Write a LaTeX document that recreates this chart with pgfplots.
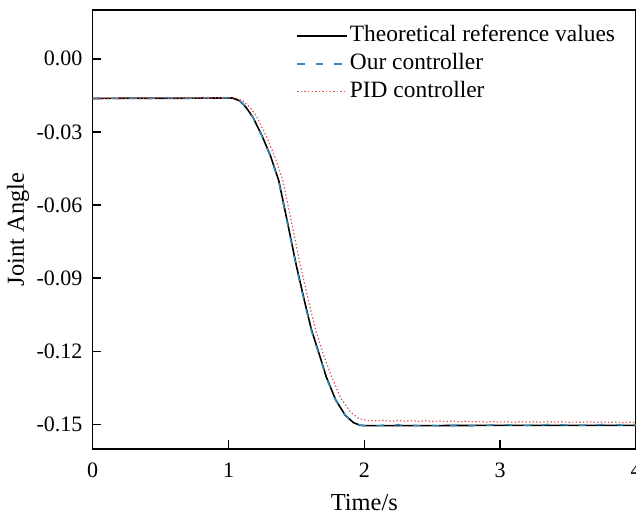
\documentclass[border=0pt]{standalone}
\usepackage{pgfplots}
\pgfplotsset{compat=1.18}
\usepackage{fontspec}
\setmainfont{Liberation Serif}
\definecolor{ourblue}{RGB}{50,140,185}
\definecolor{pidred}{RGB}{225,85,85}
\begin{document}
\fontsize{11}{13}\selectfont
\begin{tikzpicture}
\begin{axis}[
  scale only axis,
  width=271.65pt, height=219.5pt,
  xmin=0, xmax=4, ymin=-0.16, ymax=0.02,
  xtick={0,1,2,3,4},
  ytick={-0.15,-0.12,-0.09,-0.06,-0.03,0},
  yticklabel style={/pgf/number format/fixed,/pgf/number format/fixed zerofill,/pgf/number format/precision=2,xshift=-1.3pt},
  xticklabel style={yshift=-3.3pt},
  /pgf/number format/assume math mode=true,
  scaled y ticks=false,
  tick align=inside,
  xtick pos=bottom, ytick pos=left,
  major tick length=4.3pt,
  tick style={black, line width=0.8pt},
  axis line style={black, line width=0.8pt},
  ticklabel style={font=\fontsize{11}{13}\selectfont},
  label style={font=\fontsize{12.2}{14}\selectfont},
  xlabel={Time/s},
  ylabel={Joint Angle},
  xlabel style={at={(axis description cs:0.5,-0.1225)}, anchor=center},
  ylabel style={at={(axis description cs:-0.1375,0.5)}, anchor=center},
  clip=false,
  legend cell align=left,
  legend style={draw=none, fill=none, at={(rel axis cs:0.363,0.982)}, anchor=north west,
    row sep=0pt, font=\fontsize{11.7}{13}\selectfont,
    nodes={text height=8pt, text depth=2.5pt, inner ysep=1.7pt, inner xsep=1pt}},
  legend image code/.code={\draw[#1] (0pt,0pt) -- (25pt,0pt);},
]
\addplot[black, line width=0.8pt] coordinates {
(0,-0.0163) (0.2,-0.0162) (0.4,-0.0162) (0.6,-0.0162) (0.8,-0.0161) (1.0,-0.0161)
(1.03,-0.0161) (1.08,-0.0172) (1.13,-0.0200) (1.18,-0.0240) (1.25,-0.0320)
(1.31,-0.0400) (1.37,-0.0500) (1.43,-0.0660) (1.50,-0.0850) (1.56,-0.0995)
(1.61,-0.1110) (1.67,-0.1215) (1.72,-0.1305) (1.79,-0.1400) (1.86,-0.1462)
(1.92,-0.1492) (1.97,-0.1503) (2.0,-0.1504) (2.5,-0.1504) (3.0,-0.1503)
(3.5,-0.1503) (4.0,-0.1503)
};
\addlegendentry{Theoretical reference values}
\addplot[ourblue, line width=0.7pt, dash pattern=on 3.75pt off 5.5pt] coordinates {
(0,-0.0164) (0.05,-0.0160) (0.1,-0.0163) (0.15,-0.0161) (0.2,-0.0165) (0.25,-0.0160)
(0.3,-0.0163) (0.35,-0.0160) (0.4,-0.0164) (0.45,-0.0161) (0.5,-0.0163) (0.55,-0.0159)
(0.6,-0.0162) (0.65,-0.0160) (0.7,-0.0164) (0.75,-0.0160) (0.8,-0.0162) (0.85,-0.0159)
(0.9,-0.0162) (0.95,-0.0160) (1.0,-0.0161) (1.03,-0.0161)
(1.08,-0.0171) (1.13,-0.0199) (1.18,-0.0240) (1.25,-0.0322)
(1.31,-0.0403) (1.37,-0.0505) (1.43,-0.0667) (1.50,-0.0857) (1.56,-0.1002)
(1.61,-0.1116) (1.67,-0.1220) (1.72,-0.1309) (1.79,-0.1402) (1.86,-0.1463)
(1.92,-0.1492) (1.97,-0.1502) (2.0,-0.1504) (2.05,-0.1500) (2.1,-0.1505) (2.15,-0.1501)
(2.2,-0.1504) (2.25,-0.1500) (2.3,-0.1505) (2.35,-0.1502) (2.4,-0.1504) (2.45,-0.1500)
(2.5,-0.1503) (2.55,-0.1505) (2.6,-0.1501) (2.65,-0.1504) (2.7,-0.1500) (2.75,-0.1503)
(2.8,-0.1505) (2.85,-0.1500) (2.9,-0.1503) (2.95,-0.1501) (3.0,-0.1504) (3.05,-0.1500)
(3.1,-0.1503) (3.15,-0.1501) (3.2,-0.1504) (3.25,-0.1500) (3.3,-0.1502) (3.35,-0.1499)
(3.4,-0.1503) (3.45,-0.1500) (3.5,-0.1502) (3.55,-0.1499) (3.6,-0.1503) (3.65,-0.1500)
(3.7,-0.1502) (3.75,-0.1499) (3.8,-0.1503) (3.85,-0.1500) (3.9,-0.1502) (3.95,-0.1500)
(4.0,-0.1502)
};
\addlegendentry{Our controller}
\addplot[pidred, line width=0.6pt, dash pattern=on 0.7pt off 1.1pt] coordinates {
(0,-0.0161) (0.05,-0.0163) (0.1,-0.0160) (0.15,-0.0162) (0.2,-0.0159) (0.25,-0.0162)
(0.3,-0.0160) (0.35,-0.0163) (0.4,-0.0160) (0.45,-0.0162) (0.5,-0.0159) (0.55,-0.0162)
(0.6,-0.0160) (0.65,-0.0162) (0.7,-0.0159) (0.75,-0.0162) (0.8,-0.0160) (0.85,-0.0162)
(0.9,-0.0159) (0.95,-0.0161) (1.0,-0.0160) (1.05,-0.0160)
(1.10,-0.0170) (1.16,-0.0200) (1.21,-0.0240) (1.28,-0.0320)
(1.34,-0.0400) (1.40,-0.0500) (1.46,-0.0660) (1.53,-0.0850) (1.59,-0.0995)
(1.64,-0.1110) (1.70,-0.1215) (1.76,-0.1305) (1.83,-0.1395) (1.90,-0.1450)
(1.96,-0.1475) (2.02,-0.1483) (2.1,-0.1484) (2.15,-0.1482) (2.2,-0.1486) (2.25,-0.1483)
(2.3,-0.1486) (2.35,-0.1484) (2.4,-0.1487) (2.45,-0.1484) (2.5,-0.1487) (2.55,-0.1485)
(2.6,-0.1488) (2.65,-0.1485) (2.7,-0.1489) (2.75,-0.1486) (2.8,-0.1489) (2.85,-0.1487)
(2.9,-0.1490) (2.95,-0.1487) (3.0,-0.1490) (3.05,-0.1488) (3.1,-0.1491) (3.15,-0.1488)
(3.2,-0.1490) (3.25,-0.1488) (3.3,-0.1491) (3.35,-0.1488) (3.4,-0.1490) (3.45,-0.1488)
(3.5,-0.1491) (3.55,-0.1489) (3.6,-0.1491) (3.65,-0.1488) (3.7,-0.1491) (3.75,-0.1489)
(3.8,-0.1491) (3.85,-0.1489) (3.9,-0.1492) (3.95,-0.1490) (4.0,-0.1492)
};
\addlegendentry{PID controller}
\end{axis}
\pgfresetboundingbox
\path[use as bounding box] ([xshift=-46.35pt,yshift=-33pt]current axis.south west) rectangle ([yshift=5pt]current axis.north east);
\end{tikzpicture}
\end{document}
